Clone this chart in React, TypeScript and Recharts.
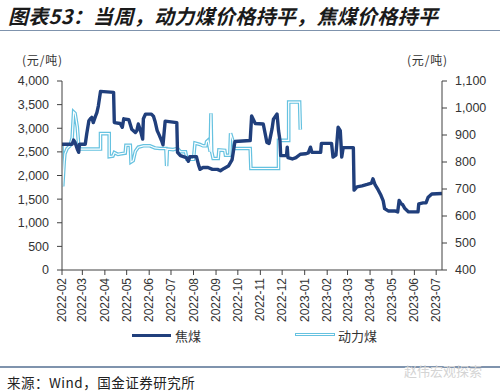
import React from "react";
import { LineChart, Line, XAxis, YAxis } from "recharts";

// 焦煤 (left axis, 元/吨)
const cokingDates = [
  "2022-02-01", "2022-02-15", "2022-02-17", "2022-02-19", "2022-02-22", "2022-02-24", "2022-02-25",
  "2022-03-05", "2022-03-07", "2022-03-10", "2022-03-12", "2022-03-14", "2022-03-16", "2022-03-19",
  "2022-03-21", "2022-03-23", "2022-03-26", "2022-04-13", "2022-04-14", "2022-04-22", "2022-04-25",
  "2022-04-27", "2022-05-04", "2022-05-08", "2022-05-13", "2022-05-15", "2022-05-17", "2022-05-20",
  "2022-05-23", "2022-05-24", "2022-05-27", "2022-06-04", "2022-06-07", "2022-06-09", "2022-06-12",
  "2022-06-15", "2022-06-18", "2022-06-20", "2022-06-23", "2022-07-09", "2022-07-10", "2022-07-14",
  "2022-07-18", "2022-07-22", "2022-07-25", "2022-07-27", "2022-08-05", "2022-08-08", "2022-08-10",
  "2022-08-14", "2022-08-21", "2022-08-27", "2022-09-03", "2022-09-07", "2022-09-12", "2022-09-18",
  "2022-09-23", "2022-09-27", "2022-10-18", "2022-10-20", "2022-10-25", "2022-11-05", "2022-11-10",
  "2022-11-13", "2022-11-17", "2022-11-19", "2022-11-24", "2022-11-26", "2022-11-28", "2022-11-29",
  "2022-12-07", "2022-12-08", "2022-12-09", "2022-12-15", "2022-12-20", "2022-12-26", "2023-01-02",
  "2023-01-06", "2023-01-09", "2023-01-11", "2023-01-23", "2023-01-24", "2023-02-07", "2023-02-09",
  "2023-02-13", "2023-02-16", "2023-02-19", "2023-02-21", "2023-02-23", "2023-03-09", "2023-03-10",
  "2023-03-14", "2023-03-21", "2023-03-28", "2023-04-03", "2023-04-05", "2023-04-08", "2023-04-12",
  "2023-04-16", "2023-04-19", "2023-04-21", "2023-04-26", "2023-05-05", "2023-05-09", "2023-05-11",
  "2023-05-14", "2023-05-16", "2023-05-19", "2023-05-24", "2023-06-06", "2023-06-07", "2023-06-13",
  "2023-06-17", "2023-06-20", "2023-06-25", "2023-07-09",
];
const cokingPrices = [
  2660, 2660, 2750, 2700, 2560, 2490, 2660,
  2660, 2880, 3160, 3200, 3230, 3120, 3250,
  3330, 3470, 3780, 3760, 3120, 3100, 3020,
  3200, 3180, 2980, 2910, 2950, 3090, 2950,
  2770, 3200, 3300, 3300, 3250, 3150, 2950,
  2850, 2740, 2650, 3150, 3120, 2490, 2420,
  2400, 2380, 2300, 2400, 2400, 2220, 2130,
  2170, 2170, 2130, 2130, 2100, 2150, 2200,
  2330, 2720, 2740, 3260, 3100, 3090, 2700,
  2680, 2980, 3190, 3300, 2950, 2740, 2420,
  2420, 2600, 2380, 2350, 2380, 2450, 2460,
  2480, 2600, 2490, 2490, 2680, 2680, 2390,
  2430, 3020, 2950, 2390, 2590, 2590, 1690,
  1760, 1780, 1810, 1840, 1930, 1800, 1700,
  1580, 1470, 1300, 1250, 1250, 1230, 1470,
  1400, 1380, 1300, 1230, 1230, 1400, 1420,
  1420, 1540, 1610, 1620,
];

// 动力煤 (right axis, 元/吨)
const thermalDates = [
  "2022-02-01", "2022-02-02", "2022-02-04", "2022-02-05", "2022-02-08", "2022-02-12", "2022-02-15",
  "2022-02-17", "2022-02-19", "2022-02-22", "2022-02-24", "2022-02-26", "2022-03-26", "2022-03-26",
  "2022-04-07", "2022-04-07", "2022-04-12", "2022-04-14", "2022-04-19", "2022-04-22", "2022-04-29",
  "2022-04-30", "2022-05-06", "2022-05-07", "2022-05-10", "2022-05-13", "2022-05-17", "2022-05-24",
  "2022-06-02", "2022-06-09", "2022-06-16", "2022-06-24", "2022-06-25", "2022-06-26", "2022-07-04",
  "2022-07-10", "2022-07-14", "2022-07-21", "2022-07-23", "2022-08-01", "2022-08-03", "2022-08-10",
  "2022-08-14", "2022-08-18", "2022-08-19", "2022-08-21", "2022-08-24", "2022-08-25", "2022-08-26",
  "2022-08-28", "2022-09-04", "2022-09-05", "2022-09-13", "2022-09-14", "2022-09-20", "2022-09-21",
  "2022-09-24", "2022-09-26", "2022-10-18", "2022-10-19", "2022-11-26", "2022-11-26", "2022-12-10",
  "2022-12-10", "2022-12-25", "2022-12-26",
];
const thermalPrices = [
  860, 710, 800, 830, 850, 860, 890,
  985, 980, 930, 862, 848, 848, 905,
  905, 820, 822, 835, 828, 830, 833,
  862, 862, 800, 805, 840, 855, 860,
  860, 852, 850, 850, 785, 848, 846,
  850, 838, 838, 810, 810, 870, 865,
  860, 860, 875, 880, 838, 980, 838,
  813, 813, 845, 843, 825, 825, 906,
  880, 850, 850, 776, 776, 880, 880,
  1022, 1022, 920,
];

const monthTicks = [
  "2022-02", "2022-03", "2022-04", "2022-05", "2022-06", "2022-07", "2022-08", "2022-09", "2022-10",
  "2022-11", "2022-12", "2023-01", "2023-02", "2023-03", "2023-04", "2023-05", "2023-06", "2023-07",
];
const leftTicks = [0, 500, 1000, 1500, 2000, 2500, 3000, 3500, 4000];
const rightTicks = [400, 500, 600, 700, 800, 900, 1000, 1100];

const DAY = 86400000;
const START = Date.UTC(2022, 1, 1);
const END = Date.UTC(2023, 6, 9);
const toDay = (s: string) => (Date.parse(s + "T00:00:00Z") - START) / DAY;
const dayToMonth = (d: number) => {
  const dt = new Date(START + d * DAY);
  return `${dt.getUTCFullYear()}-${String(dt.getUTCMonth() + 1).padStart(2, "0")}`;
};

const cokingData = cokingDates.map((d, i) => ({ t: toDay(d), v: cokingPrices[i] }));
const thermalData = thermalDates.map((d, i) => ({ t: toDay(d), v: thermalPrices[i] }));
const xTicks = monthTicks.map((m) => toDay(m + "-01"));

const DARK = "#203f7c";
const LIGHT = "#66c2e0";
const RULE = "#7f93ad";
const FONT = "'Liberation Sans', Arial, sans-serif";
const CJK = "'Noto Sans CJK SC', sans-serif";

function MonthTick({ x, y, payload }: any) {
  return (
    <g transform={`translate(${x},${y})`}>
      <text
        transform="rotate(-90)"
        textAnchor="end"
        dy={4}
        fontSize={12}
        fill="#333"
        fontFamily={FONT}
      >
        {dayToMonth(payload.value)}
      </text>
    </g>
  );
}

const fmt = (v: number) => v.toLocaleString("en-US");

export default function App() {
  return (
    <div
      style={{
        position: "absolute",
        left: 0,
        top: 0,
        width: 500,
        height: 391,
        background: "#fff",
        overflow: "hidden",
      }}
    >
      <div
        style={{
          position: "absolute",
          left: 8,
          top: 5,
          fontFamily: CJK,
          fontSize: 20,
          fontWeight: 700,
          fontStyle: "italic",
          lineHeight: "22px",
          color: "#1a1a1a",
          whiteSpace: "nowrap",
          letterSpacing: 0.3,
        }}
      >
        图表53：当周，动力煤价格持平，焦煤价格持平
      </div>
      <div style={{ position: "absolute", left: 0, top: 29.5, width: 500, height: 1.5, background: RULE }} />

      <div style={{ position: "absolute", left: 22, top: 51, fontFamily: CJK, fontSize: 12, color: "#333", letterSpacing: 0.8 }}>
        (元/吨)
      </div>
      <div style={{ position: "absolute", left: 407, top: 51, fontFamily: CJK, fontSize: 12, color: "#333", letterSpacing: 0.8 }}>
        (元/吨)
      </div>

      <div style={{ position: "absolute", left: 0, top: 0 }}>
        <LineChart width={500} height={391} margin={{ top: 81, right: 0, left: 0, bottom: 61 }}>
          <XAxis
            dataKey="t"
            type="number"
            domain={[0, (END - START) / DAY]}
            ticks={xTicks}
            interval={0}
            allowDataOverflow
            height={60}
            stroke="#404040"
            tickSize={5}
            tickMargin={3}
            tick={<MonthTick />}
          />
          <YAxis
            yAxisId="left"
            domain={[0, 4000]}
            ticks={leftTicks}
            interval={0}
            width={62}
            stroke="#404040"
            tickSize={5}
            tickMargin={8}
            tickFormatter={fmt}
            tick={{ fill: "#333", fontSize: 12.5, fontFamily: FONT }}
          />
          <YAxis
            yAxisId="right"
            orientation="right"
            domain={[400, 1100]}
            ticks={rightTicks}
            interval={0}
            width={58}
            stroke="#404040"
            tickSize={5}
            tickMargin={8}
            tickFormatter={fmt}
            tick={{ fill: "#333", fontSize: 12.5, fontFamily: FONT }}
          />
          <Line
            yAxisId="right"
            data={thermalData}
            dataKey="v"
            type="linear"
            stroke={LIGHT}
            strokeWidth={3.6}
            dot={false}
            isAnimationActive={false}
          />
          <Line
            yAxisId="right"
            data={thermalData}
            dataKey="v"
            type="linear"
            stroke="#ffffff"
            strokeWidth={1.2}
            dot={false}
            isAnimationActive={false}
          />
          <Line
            yAxisId="left"
            data={cokingData}
            dataKey="v"
            type="linear"
            stroke={DARK}
            strokeWidth={3.4}
            strokeLinejoin="round"
            dot={false}
            isAnimationActive={false}
          />
        </LineChart>
      </div>

      {/* legend */}
      <div style={{ position: "absolute", left: 132, top: 333.5, width: 39, height: 3.5, background: DARK }} />
      <div style={{ position: "absolute", left: 175, top: 326, fontFamily: CJK, fontSize: 13, color: "#333" }}>
        焦煤
      </div>
      <div
        style={{
          position: "absolute",
          left: 295,
          top: 333,
          width: 38,
          height: 1.4,
          background: "#fff",
          border: `1.3px solid ${LIGHT}`,
        }}
      />
      <div style={{ position: "absolute", left: 338, top: 326, fontFamily: CJK, fontSize: 13, color: "#333" }}>
        动力煤
      </div>

      <div style={{ position: "absolute", left: 0, top: 366, width: 500, height: 1.5, background: RULE }} />
      <div
        style={{
          position: "absolute",
          left: 404,
          top: 361,
          fontFamily: CJK,
          fontSize: 13,
          color: "#d4d4d4",
          whiteSpace: "nowrap",
        }}
      >
        赵伟宏观探索
      </div>
      <div
        style={{
          position: "absolute",
          left: 7,
          top: 372,
          fontFamily: CJK,
          fontSize: 13.5,
          color: "#222",
          whiteSpace: "nowrap",
          letterSpacing: 0.5,
        }}
      >
        来源：Wind，国金证券研究所
      </div>
    </div>
  );
}
